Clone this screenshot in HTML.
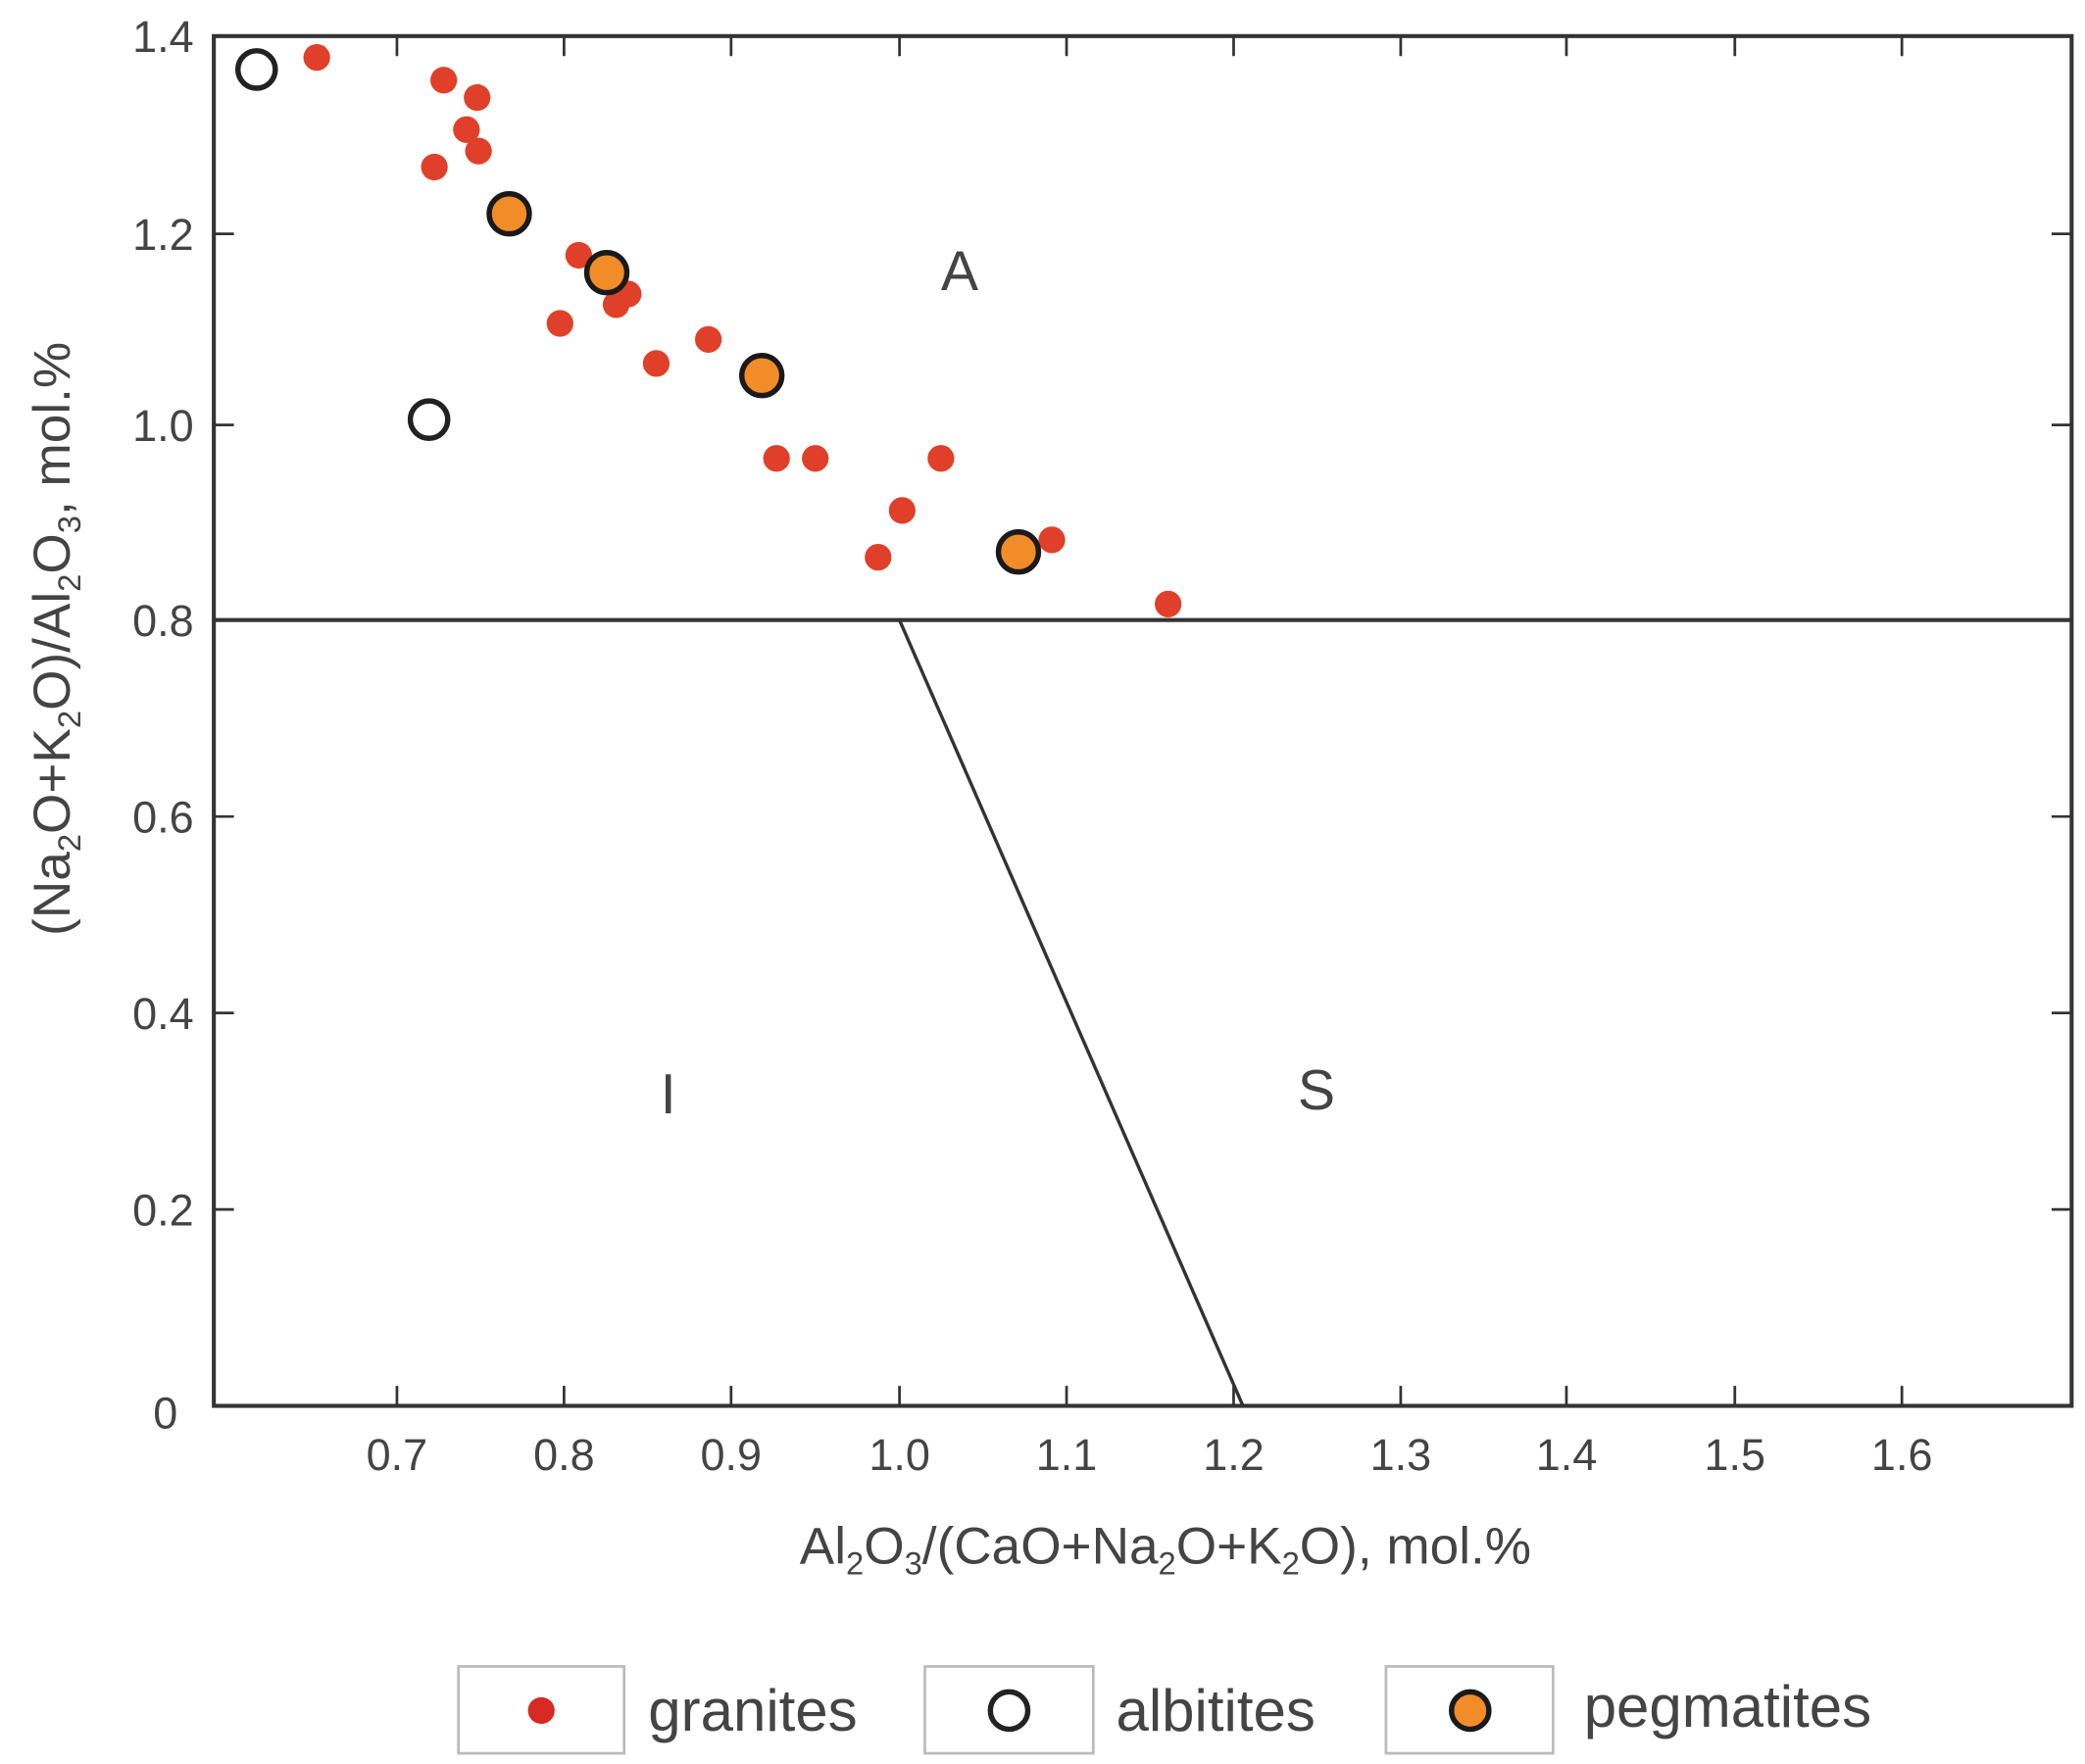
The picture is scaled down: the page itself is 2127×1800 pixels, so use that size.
<!DOCTYPE html>
<html><head><meta charset="utf-8"><style>html,body{margin:0;padding:0;background:#fff}svg{display:block}</style></head><body>
<svg width="2127" height="1800" viewBox="0 0 1560 1320" preserveAspectRatio="none" xmlns="http://www.w3.org/2000/svg" font-family="Liberation Sans, sans-serif" fill="#444">
<rect x="160" y="27" width="1390" height="1025" fill="none" stroke="#333" stroke-width="3"/>
<g stroke="#333" stroke-width="2">
<path d="M297 1052v-15M422 1052v-15M547 1052v-15M673 1052v-15M798 1052v-15M923 1052v-15M1048 1052v-15M1172 1052v-15M1298 1052v-15M1423 1052v-15"/>
<path d="M297 27v15M422 27v15M547 27v15M673 27v15M798 27v15M923 27v15M1048 27v15M1172 27v15M1298 27v15M1423 27v15"/>
<path d="M160 175h15M160 318h15M160 611h15M160 758h15M160 905h15M1550 175h-15M1550 318h-15M1550 611h-15M1550 758h-15M1550 905h-15"/>
</g>
<line x1="160" y1="464" x2="1550" y2="464" stroke="#333" stroke-width="3"/>
<line x1="673" y1="464" x2="930" y2="1052" stroke="#333" stroke-width="2.5"/>
<g font-size="33" text-anchor="end">
<text x="145" y="39">1.4</text><text x="145" y="187">1.2</text><text x="145" y="330">1.0</text><text x="145" y="476">0.8</text><text x="145" y="623">0.6</text><text x="145" y="770">0.4</text><text x="145" y="917">0.2</text><text x="133" y="1069">0</text>
</g>
<g font-size="33" text-anchor="middle">
<text x="297" y="1100">0.7</text><text x="422" y="1100">0.8</text><text x="547" y="1100">0.9</text><text x="673" y="1100">1.0</text><text x="798" y="1100">1.1</text><text x="923" y="1100">1.2</text><text x="1048" y="1100">1.3</text><text x="1172" y="1100">1.4</text><text x="1298" y="1100">1.5</text><text x="1423" y="1100">1.6</text>
</g>
<g font-size="42" text-anchor="middle"><text x="718" y="217">A</text><text x="500" y="833">I</text><text x="985" y="830">S</text></g>
<text x="872" y="1170" font-size="39" text-anchor="middle">Al<tspan font-size="24" dy="8">2</tspan><tspan dy="-8">O</tspan><tspan font-size="24" dy="8">3</tspan><tspan dy="-8">/(CaO+Na</tspan><tspan font-size="24" dy="8">2</tspan><tspan dy="-8">O+K</tspan><tspan font-size="24" dy="8">2</tspan><tspan dy="-8">O), mol.%</tspan></text>
<text transform="translate(52,478) rotate(-90)" font-size="39" text-anchor="middle">(Na<tspan font-size="24" dy="8">2</tspan><tspan dy="-8">O+K</tspan><tspan font-size="24" dy="8">2</tspan><tspan dy="-8">O)/Al</tspan><tspan font-size="24" dy="8">2</tspan><tspan dy="-8">O</tspan><tspan font-size="24" dy="8">3</tspan><tspan dy="-8">, mol.%</tspan></text>
<g fill="#e0402a">
<circle cx="237" cy="43" r="10"/><circle cx="332" cy="60" r="10"/><circle cx="357" cy="73" r="10"/><circle cx="349" cy="97" r="10"/><circle cx="358" cy="113" r="10"/><circle cx="325" cy="125" r="10"/><circle cx="433" cy="191" r="10"/><circle cx="470" cy="220" r="10"/><circle cx="461" cy="228" r="10"/><circle cx="419" cy="242" r="10"/><circle cx="491" cy="272" r="10"/><circle cx="530" cy="254" r="10"/><circle cx="581" cy="343" r="10"/><circle cx="610" cy="343" r="10"/><circle cx="704" cy="343" r="10"/><circle cx="675" cy="382" r="10"/><circle cx="657" cy="417" r="10"/><circle cx="787" cy="404" r="10"/><circle cx="874" cy="452" r="10"/>
</g>
<g fill="none" stroke="#222" stroke-width="4"><circle cx="192" cy="52" r="14"/><circle cx="321" cy="314" r="14"/></g>
<g fill="#f28c28" stroke="#1a1a1a" stroke-width="4"><circle cx="381" cy="160" r="15"/><circle cx="454" cy="204" r="15"/><circle cx="570" cy="281" r="15"/><circle cx="762" cy="413" r="15"/></g>
<g fill="#fff" stroke="#bbb" stroke-width="2"><rect x="343" y="1247" width="124" height="65"/><rect x="692" y="1247" width="126" height="65"/><rect x="1037" y="1247" width="125" height="65"/></g>
<circle cx="405" cy="1280" r="10" fill="#d62a22"/>
<circle cx="755" cy="1280" r="14" fill="none" stroke="#222" stroke-width="4"/>
<circle cx="1100" cy="1280" r="14" fill="#f28c28" stroke="#1a1a1a" stroke-width="4"/>
<g font-size="44" fill="#444"><text x="485" y="1295">granites</text><text x="835" y="1295">albitites</text><text x="1185" y="1292">pegmatites</text></g>
</svg>
</body></html>
